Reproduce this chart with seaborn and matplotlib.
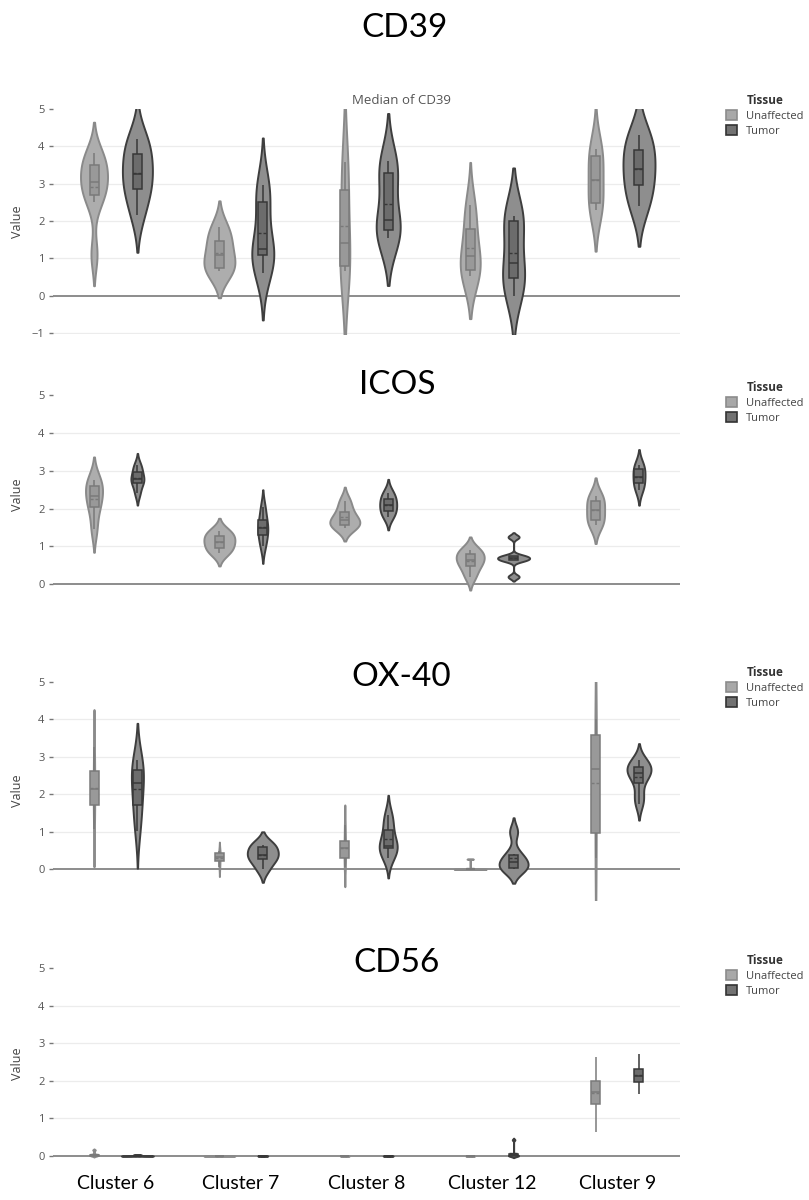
import numpy as np
import matplotlib
matplotlib.use("Agg")
import matplotlib.pyplot as plt
from matplotlib.patches import Patch
import seaborn as sns

# ---------------------------------------------------------------- data
CLUSTERS = ["Cluster 6", "Cluster 7", "Cluster 8", "Cluster 12", "Cluster 9"]
TISSUES = ["Unaffected", "Tumor"]
MARKERS = ["CD39", "ICOS", "OX-40", "CD56"]

# per-sample median expression, one list per cluster (same order as CLUSTERS)
CD39_UNAFFECTED = [
    [1.1, 2.5, 2.75, 3.0, 3.1, 3.46, 3.6, 3.81],
    [0.65, 0.7, 0.9, 1.25, 1.55, 1.83],
    [0.65, 0.78, 1.41, 2.83, 3.59],
    [0.52, 0.6, 0.9, 1.24, 1.95, 2.43],
    [2.3, 2.48, 3.1, 3.73, 3.92],
]
CD39_TUMOR = [
    [2.17, 2.7, 3.0, 3.26, 3.6, 4.0, 4.19],
    [0.6, 1.0, 1.1, 1.2, 1.3, 2.45, 2.7, 2.97],
    [1.54, 1.7, 1.82, 2.03, 3.2, 3.36, 3.61],
    [0.0, 0.35, 0.6, 0.86, 1.95, 2.05, 2.14],
    [2.39, 2.95, 3.39, 3.89, 4.30],
]
ICOS_UNAFFECTED = [
    [1.45, 2.0, 2.2, 2.45, 2.65, 2.76],
    [0.82, 0.93, 1.08, 1.18, 1.32, 1.41],
    [1.5, 1.55, 1.65, 1.75, 1.95, 2.21],
    [0.2, 0.45, 0.6, 0.68, 0.85, 0.9],
    [1.57, 1.7, 1.95, 2.21, 2.32],
]
ICOS_TUMOR = [
    [2.4, 2.65, 2.75, 2.82, 3.0, 3.15],
    [1.0, 1.25, 1.42, 1.55, 1.75, 2.05],
    [1.79, 1.9, 2.05, 2.15, 2.3, 2.42],
    [0.2, 0.63, 0.66, 0.72, 0.75, 1.25],
    [2.5, 2.67, 2.84, 3.05, 3.15],
]
OX40_UNAFFECTED = [
    [1.07, 1.62, 2.0, 2.28, 2.75, 3.25],
    [0.05, 0.18, 0.3, 0.38, 0.45, 0.48],
    [0.07, 0.29, 0.56, 0.76, 1.18],
    [0.0, 0.0, 0.0, 0.0, 0.0, 0.27],
    [0.3, 0.98, 2.66, 3.58, 4.0],
]
OX40_TUMOR = [
    [1.02, 1.55, 1.85, 2.31, 2.5, 2.8, 2.9],
    [0.0, 0.25, 0.33, 0.43, 0.64, 0.65],
    [0.29, 0.52, 0.6, 0.62, 0.9, 1.2, 1.45],
    [0.0, 0.0, 0.15, 0.25, 0.42, 1.0],
    [1.75, 2.0, 2.4, 2.52, 2.62, 2.7, 2.8, 2.91],
]
CD56_UNAFFECTED = [
    [0.0, 0.01, 0.02, 0.03, 0.04, 0.16],
    [0.0, 0.0, 0.0, 0.0, 0.0, 0.01],
    [0.0, 0.0, 0.0, 0.0, 0.005],
    [0.0, 0.0, 0.0, 0.0, 0.005],
    [0.65, 1.3, 1.6, 1.8, 2.05, 2.65],
]
CD56_TUMOR = [
    [0.0, 0.0, 0.0, 0.0, 0.01, 0.03],
    [0.0, 0.0, 0.0, 0.0, 0.005],
    [0.0, 0.0, 0.0, 0.0, 0.005],
    [0.0, 0.0, 0.01, 0.02, 0.05, 0.43],
    [1.65, 1.95, 2.08, 2.2, 2.35, 2.72],
]

DATA = {
    "CD39": (CD39_UNAFFECTED, CD39_TUMOR),
    "ICOS": (ICOS_UNAFFECTED, ICOS_TUMOR),
    "OX-40": (OX40_UNAFFECTED, OX40_TUMOR),
    "CD56": (CD56_UNAFFECTED, CD56_TUMOR),
}

# ---------------------------------------------------------------- styling
W_PX, H_PX = 809, 1200
CAT_PX = 125.4                      # pixels per cluster slot
HUE_OFFSET = {"Unaffected": -0.173, "Tumor": 0.173}
BOX_W = 9 / CAT_PX

# maximum violin width per cluster (pixels), Unaffected / Tumor
VIOLIN_PX = {
    "CD39": ([27, 31, 10, 20, 15], [30, 22, 24, 22, 32]),
    "ICOS": ([17, 31, 30, 28, 18], [13, 10, 17, 32, 12]),
    "OX-40": ([1.5, 1.5, 1.5, 32, 1.5], [12, 31, 18, 29, 24]),
    "CD56": ([8, 31, 9, 9, 0], [32, 10, 10, 10, 0]),
}
YLIM = {"CD39": (-1.03, 5.0), "ICOS": (-0.25, 5.0),
        "OX-40": (-0.83, 5.0), "CD56": (-0.1, 5.0)}
# axes box in pixels: top, bottom
AX_PX = {"CD39": (109, 334), "ICOS": (395, 593.8),
         "OX-40": (681.7, 900.4), "CD56": (968.3, 1159.75)}
TITLE_PX = {"CD39": (405, 28), "ICOS": (397, 385),
            "OX-40": (401, 677), "CD56": (397, 963)}
LEGEND_TOP = {"CD39": 94, "ICOS": 381, "OX-40": 666, "CD56": 954}

VIOLIN_FILL = {"Unaffected": "#adadad", "Tumor": "#8e8e8e"}
VIOLIN_EDGE = {"Unaffected": "#8a8a8a", "Tumor": "#3e3e3e"}
BOX_FILL = {"Unaffected": "#999999", "Tumor": "#6c6c6c"}
BOX_EDGE = {"Unaffected": "#7a7a7a", "Tumor": "#383838"}
LEG_FILL = {"Unaffected": "#a8a8a8", "Tumor": "#727272"}
LEG_EDGE = {"Unaffected": "#8c8c8c", "Tumor": "#333333"}

sns.set_style("white")
plt.rcParams["font.family"] = ["Open Sans", "DejaVu Sans"]
TITLE_FONT = ["Lato", "DejaVu Sans"]


def plotly_bw(kde):
    """Silverman rule of thumb with an IQR guard and a span floor."""
    vals = np.asarray(kde.dataset).ravel()
    n = vals.size
    sd = vals.std(ddof=1)
    q1, q3 = np.percentile(vals, [25, 75])
    a = min(sd, (q3 - q1) / 1.349)
    bw = max(1.059 * a * n ** -0.2, (vals.max() - vals.min()) / 100)
    return bw / sd


fig = plt.figure(figsize=(W_PX / 100, H_PX / 100), dpi=100)
left = 53 / W_PX
width = 627 / W_PX

for marker in MARKERS:
    top_px, bot_px = AX_PX[marker]
    ax = fig.add_axes([left, 1 - bot_px / H_PX, width, (bot_px - top_px) / H_PX])

    for ti, tissue in enumerate(TISSUES):
        groups = DATA[marker][ti]
        for ci, vals in enumerate(groups):
            vals = np.asarray(vals, dtype=float)
            xs = np.full(vals.size, ci + HUE_OFFSET[tissue])
            vw = VIOLIN_PX[marker][ti][ci] / CAT_PX
            if vw > 0:
                sns.violinplot(
                    x=xs, y=vals, native_scale=True, orient="x", width=vw,
                    cut=2, gridsize=300, bw_method=plotly_bw,
                    density_norm="width", inner=None, saturation=1,
                    color=VIOLIN_FILL[tissue], linecolor=VIOLIN_EDGE[tissue],
                    linewidth=1.4, ax=ax,
                )
            sns.boxplot(
                x=xs, y=vals, native_scale=True, orient="x", width=BOX_W,
                whis=1.5, showfliers=False, showcaps=False, saturation=1,
                color=BOX_FILL[tissue], linecolor=BOX_EDGE[tissue],
                linewidth=1.1, showmeans=True, meanline=True,
                meanprops=dict(color=BOX_EDGE[tissue], linestyle=(0, (2.2, 1.4)),
                               linewidth=1.0),
                ax=ax,
            )

    lo, hi = YLIM[marker]
    ticks = np.arange(int(np.ceil(lo)), 6)
    ax.set_xlim(-0.5, 4.5)
    ax.set_ylim(lo, hi)
    ax.set_yticks(ticks)
    ax.grid(False)
    for v in ticks:
        if lo < v < hi and v != 0:
            ax.axhline(v, color="#ececec", linewidth=0.9, zorder=0.5)
    ax.axhline(0, color="#8c8c8c", linewidth=1.4, zorder=0.8)
    for s in ax.spines.values():
        s.set_visible(False)
    ax.tick_params(axis="y", length=3, width=1, color="#777777",
                   labelcolor="#555555", labelsize=8, pad=3, left=True)
    ax.set_ylabel("Value", fontsize=9, color="#444444")
    ax.yaxis.set_label_coords(-0.046, 0.5)
    ax.set_xlabel("")

    if marker == "CD56":
        ax.set_xticks(range(len(CLUSTERS)))
        ax.set_xticklabels(CLUSTERS, fontsize=14, family=TITLE_FONT, color="black")
        ax.tick_params(axis="x", length=0, pad=11)
    else:
        ax.set_xticks([])

    tx, ty = TITLE_PX[marker]
    fig.text(tx / W_PX, 1 - ty / H_PX, marker, ha="center", va="center",
             fontsize=24, family=TITLE_FONT, color="black")

    handles = [Patch(facecolor=LEG_FILL[t], edgecolor=LEG_EDGE[t], linewidth=1.2,
                     label=t) for t in TISSUES]
    leg = fig.legend(handles=handles, title="Tissue", loc="upper left",
                     bbox_to_anchor=(726 / W_PX, 1 - LEGEND_TOP[marker] / H_PX),
                     bbox_transform=fig.transFigure, frameon=False, fontsize=8,
                     title_fontproperties={"weight": "bold", "size": 8.5},
                     handlelength=1.0, handleheight=1.0, handletextpad=0.8,
                     labelspacing=0.3, borderpad=0, borderaxespad=0,
                     labelcolor="#444444")
    leg.get_title().set_color("#333333")

fig.text(402 / W_PX, 1 - 100 / H_PX, "Median of CD39", ha="center", va="center",
         fontsize=9.5, color="#555555")

fig.savefig("out.png", dpi=100)
